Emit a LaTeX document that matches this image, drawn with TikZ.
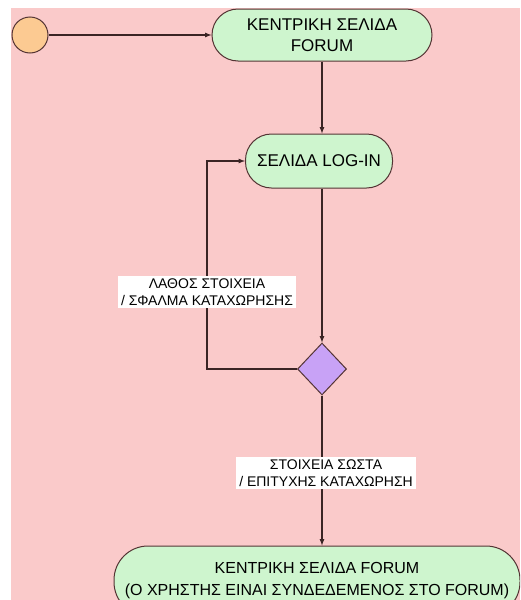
\documentclass[tikz,border=0pt]{standalone}
\usepackage{fontspec}
\setmainfont{Liberation Sans}
\usetikzlibrary{positioning,arrows,shapes.geometric}
\definecolor{bgpink}{RGB}{250,202,202}
\definecolor{stategreen}{RGB}{206,245,206}
\definecolor{startorange}{RGB}{252,202,146}
\definecolor{choicepurple}{RGB}{200,162,246}
\definecolor{edgebrown}{RGB}{84,52,52}
\definecolor{flowdark}{RGB}{58,36,36}

\begin{document}
\begin{tikzpicture}[x=1pt,y=-1pt,
		state/.style={draw=edgebrown,line width=1pt,fill=stategreen,rounded corners=26pt,
			align=center,inner sep=2pt,font=\fontsize{17}{20.5}\selectfont},
		flow/.style={draw=flowdark,line width=1.2pt,-latex},
		lbl/.style={fill=white,align=center,inner sep=3pt,font=\fontsize{14}{17}\selectfont}]
	\useasboundingbox (0,0) rectangle (520,600);
	\clip (0,0) rectangle (520,600);
	% background
	\fill[bgpink] (11,8) rectangle (520,600);
	% start state
	\node[circle,draw=edgebrown,line width=1pt,fill=startorange,minimum size=36pt,inner sep=0pt] (start) at (30,35) {};
	% pages
	\node[state,minimum width=220pt,minimum height=52pt] (home) at (322,35) {ΚΕΝΤΡΙΚΗ ΣΕΛΙΔΑ\\FORUM};
	\node[state,minimum width=147pt,minimum height=54pt] (login) at (319,161) {ΣΕΛΙΔΑ LOG-IN};
	\node[diamond,draw=edgebrown,line width=1pt,fill=choicepurple,minimum width=49pt,minimum height=52pt,inner sep=0pt] (check) at (322,369) {};
	\node[state,rounded corners=34pt,minimum width=406pt,minimum height=70pt,font=\fontsize{16}{22}\selectfont] (loggedin) at (317,581)
		{ΚΕΝΤΡΙΚΗ ΣΕΛΙΔΑ FORUM\\(Ο ΧΡΗΣΤΗΣ ΕΙΝΑΙ ΣΥΝΔΕΔΕΜΕΝΟΣ ΣΤΟ FORUM)};
	% transitions
	\coordinate (loopx) at (207,250);
	\draw[flow] (start) -- (home);
	\draw[flow] (home.south -| check) -- (login.north -| check);
	\draw[flow] (login.south -| check) -- (check.north);
	\draw[flow] (check.west) -| (loopx) |- (login.west);
	\draw[flow] (check.south) -- (check |- loggedin.north);
	% labels
	\node[lbl] (failtxt) at (207,292) {ΛΑΘΟΣ ΣΤΟΙΧΕΙΑ\\/ ΣΦΑΛΜΑ ΚΑΤΑΧΩΡΗΣΗΣ};
	\node[lbl] (oktxt) at (326,473) {ΣΤΟΙΧΕΙΑ ΣΩΣΤΑ\\/ ΕΠΙΤΥΧΗΣ ΚΑΤΑΧΩΡΗΣΗ};
\end{tikzpicture}
\end{document}
